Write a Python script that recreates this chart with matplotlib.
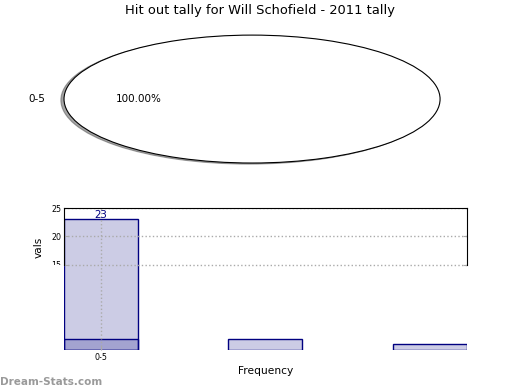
"""
hit out tally chart: pie of tally ranges on top, bar of frequencies below
out: out.png
"""

import matplotlib
matplotlib.use("Agg")
import matplotlib.pyplot as plt
from matplotlib.patches import Rectangle

title = "Hit out tally for Will Schofield - 2011 tally"
pieLabels = ["0-5"]
pieValues = [23]
barLabels = ["0-5"]
barValues = [23]
freqValues = [2, 2, 1]

fig = plt.figure(figsize=(5.2, 3.9), dpi=100)
fig.suptitle(title, fontsize=9.4, y=0.99)

# pie
axPie = fig.add_axes([0.0327, 0.541, 0.904, 0.410])
wedges, texts, autotexts = axPie.pie(pieValues, labels=pieLabels, autopct="%.2f%%",
                                     shadow={"ox": -0.012, "oy": -0.012},
                                     wedgeprops=dict(facecolor="white", edgecolor="black", linewidth=0.8))
for t in texts + autotexts:
    t.set_fontsize(7.5)
axPie.set_aspect("auto")
axPie.set_xlim(-1.25, 1.25)
axPie.set_ylim(-1.25, 1.25)

# bars
ax = fig.add_axes([0.123, 0.1026, 0.775, 0.364])
pos = list(range(len(freqValues)))
ax.bar(pos[:len(barValues)], barValues, width=0.45, color="navy", alpha=0.2, edgecolor="none")
ax.bar(pos[:len(barValues)], barValues, width=0.45, facecolor="none", edgecolor="navy", linewidth=1)
ax.bar(pos, freqValues, width=0.45, color="navy", alpha=0.2, edgecolor="none")
ax.bar(pos, freqValues, width=0.45, facecolor="none", edgecolor="navy", linewidth=1)
for p, v in zip(pos, barValues):
    ax.text(p, v + 0.7, str(v), ha="center", va="center", color="navy", fontsize=7.4)

ax.set_xlim(-0.225, 2.225)
ax.set_ylim(0, 25)
ax.set_yticks([15, 20, 25])
ax.set_xticks(pos[:len(barLabels)])
ax.set_xticklabels(barLabels)
ax.tick_params(axis="both", labelsize=5.7, direction="in", color="#aaaaaa", length=3, pad=2)
ax.tick_params(axis="y", right=True)
ax.grid(True, linestyle=":", color="#aaaaaa", linewidth=1)
ax.set_axisbelow(False)
ax.spines["bottom"].set_visible(False)
ax.spines["left"].set_bounds(15, 25)
ax.spines["right"].set_bounds(15, 25)
for s in ax.spines.values():
    s.set_zorder(3)
ax.set_xlabel("Frequency", fontsize=7.7, labelpad=3)
ax.set_ylabel("vals", fontsize=7.7)
ax.yaxis.set_label_coords(-0.05, 0.72)

# the frame stops at 15, so the lowest label is cut
fig.add_artist(Rectangle((0.07, 0.2), 0.05, 0.1213, transform=fig.transFigure,
                         facecolor="white", edgecolor="none", zorder=5))

fig.text(0.0, 0.012, "Dream-Stats.com", fontsize=7.5, fontweight="bold", color="#9a9a9a")

plt.savefig("out.png")
